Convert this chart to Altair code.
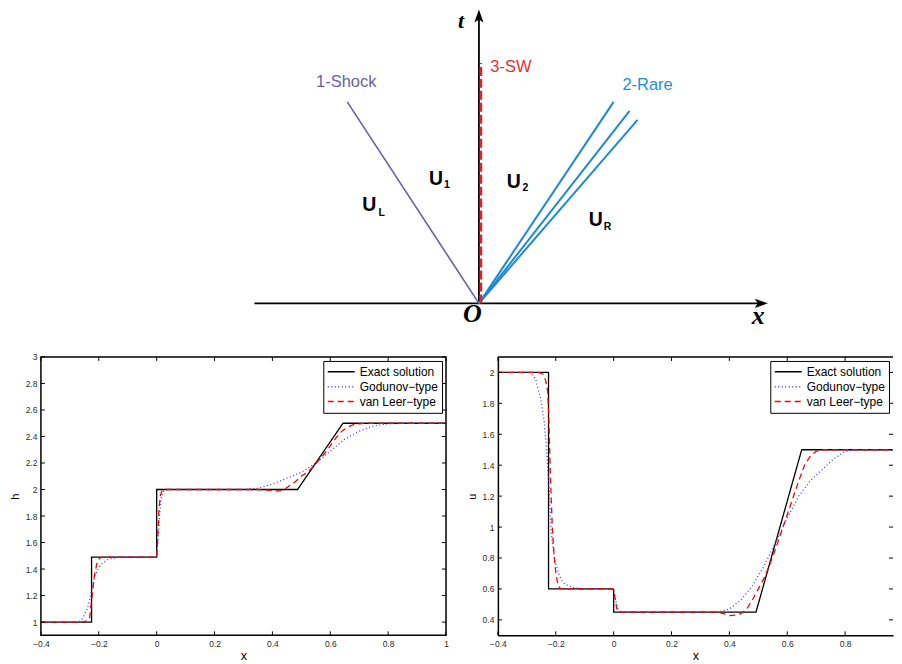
import altair as alt
import pandas as pd

# ---------------- bottom panels: data ----------------
SERIES = ["Exact solution", "Godunov−type", "van Leer−type"]
COLORS = ["#000000", "#3a3aff", "#ff0000"]
DASHES = [[1, 0], [1, 2.5], [6, 4]]

x_ticks = [-0.4, -0.2, 0, 0.2, 0.4, 0.6, 0.8, 1.0]
x_ticks_right = [-0.4, -0.2, 0, 0.2, 0.4, 0.6, 0.8]
h_ticks = [1, 1.2, 1.4, 1.6, 1.8, 2, 2.2, 2.4, 2.6, 2.8, 3]
u_ticks = [0.4, 0.6, 0.8, 1, 1.2, 1.4, 1.6, 1.8, 2]

# depth h
h_exact_x = [-0.4, -0.225, -0.225, 0.0, 0.0, 0.487, 0.644, 1.0]
h_exact_y = [1.0, 1.0, 1.49, 1.49, 2.0, 2.0, 2.5, 2.5]
h_god_x = [-0.4, -0.27, -0.255, -0.24, -0.23, -0.22, -0.213, -0.2, -0.19, -0.17, -0.155, -0.13,
           -0.1, -0.003, 0.0, 0.005, 0.01, 0.015, 0.022, 0.035, 0.3, 0.35, 0.4, 0.45, 0.5,
           0.55, 0.6, 0.65, 0.7, 0.75, 0.8, 0.85, 1.0]
h_god_y = [1.0, 1.0, 1.03, 1.1, 1.18, 1.29, 1.35, 1.41, 1.44, 1.47, 1.48, 1.488,
           1.49, 1.49, 1.5, 1.62, 1.8, 1.93, 1.985, 2.0, 2.0, 2.01, 2.04, 2.085, 2.13,
           2.2, 2.29, 2.38, 2.44, 2.48, 2.495, 2.5, 2.5]
h_vl_x = [-0.4, -0.26, -0.24, -0.232, -0.224, -0.215, -0.205, -0.195, -0.18, -0.002, 0.0,
          0.004, 0.008, 0.013, 0.02, 0.03, 0.35, 0.4, 0.42, 0.44, 0.46, 0.48, 0.5, 0.52,
          0.54, 0.56, 0.58, 0.6, 0.62, 0.64, 0.66, 0.68, 0.7, 0.72, 1.0]
h_vl_y = [1.0, 1.0, 1.01, 1.03, 1.18, 1.35, 1.46, 1.485, 1.49, 1.49, 1.49,
          1.65, 1.85, 1.96, 1.995, 2.0, 2.0, 1.993, 1.988, 2.0, 2.03, 2.06, 2.1, 2.13,
          2.17, 2.22, 2.27, 2.33, 2.39, 2.44, 2.47, 2.49, 2.495, 2.5, 2.5]

# velocity u
u_exact_x = [-0.4, -0.225, -0.225, 0.0, 0.0, 0.492, 0.65, 1.0]
u_exact_y = [2.0, 2.0, 0.6, 0.6, 0.45, 0.45, 1.5, 1.5]
u_god_x = [-0.4, -0.29, -0.27, -0.25, -0.24, -0.233, -0.225, -0.22, -0.216, -0.21, -0.204,
           -0.19, -0.181, -0.17, -0.157, -0.14, -0.123, -0.1, -0.005, 0.0, 0.005, 0.01,
           0.016, 0.022, 0.03, 0.34, 0.37, 0.4, 0.44, 0.48, 0.52, 0.56, 0.6, 0.64, 0.68,
           0.72, 0.76, 0.8, 0.84, 1.0]
u_god_y = [2.0, 2.0, 1.96, 1.81, 1.68, 1.53, 1.31, 1.13, 0.97, 0.87, 0.79,
           0.7, 0.66, 0.635, 0.62, 0.61, 0.605, 0.6, 0.6, 0.59, 0.55, 0.5,
           0.465, 0.452, 0.45, 0.45, 0.455, 0.47, 0.53, 0.62, 0.75, 0.9, 1.06, 1.2, 1.3,
           1.37, 1.44, 1.49, 1.5, 1.5]
u_vl_x = [-0.4, -0.26, -0.245, -0.235, -0.228, -0.224, -0.221, -0.218, -0.216, -0.212,
          -0.208, -0.204, -0.2, -0.195, -0.19, -0.183, -0.17, -0.005, 0.0, 0.005, 0.01,
          0.015, 0.02, 0.36, 0.38, 0.4, 0.42, 0.44, 0.46, 0.48, 0.5, 0.52, 0.54, 0.56,
          0.58, 0.6, 0.62, 0.64, 0.66, 0.68, 0.7, 0.72, 1.0]
u_vl_y = [2.0, 2.0, 1.99, 1.95, 1.88, 1.7, 1.5, 1.3, 1.2, 1.0,
          0.88, 0.78, 0.71, 0.65, 0.615, 0.602, 0.6, 0.6, 0.59, 0.54, 0.48,
          0.455, 0.45, 0.45, 0.44, 0.428, 0.43, 0.44, 0.47, 0.53, 0.6, 0.67, 0.76, 0.86,
          0.97, 1.08, 1.19, 1.3, 1.4, 1.46, 1.49, 1.5, 1.5]

# ---------------- top wave diagram: data ----------------
axis_x0 = [-2.25, 0.0]
axis_t0 = [0.0, 0.0]
axis_x1 = [2.83, 0.0]
axis_t1 = [0.0, 2.88]

shock_x = [-1.32]
shock_t = [2.02]
rare_x = [1.35, 1.51, 1.59]
rare_t = [2.02, 1.93, 1.84]
sw_x = [0.02]
sw_t = [2.41]

wave_labels = ["1-Shock", "3-SW", "2-Rare"]
wave_label_x = [-1.33, 0.32, 1.69]
wave_label_t = [2.22, 2.37, 2.19]
WAVE_COLORS = ["#6a5fa8", "#ee2a2a", "#1e8fd8"]

state_main = ["U", "U", "U", "U"]
state_x = [-1.1, -0.43, 0.35, 1.17]
state_t = [0.99, 1.25, 1.22, 0.84]
state_sub = ["L", "1", "2", "R"]
sub_x = [-0.975, -0.32, 0.465, 1.29]
sub_t = [0.91, 1.19, 1.16, 0.77]

axis_letters = ["O", "x"]
axis_letter_x = [-0.065, 2.80]
axis_letter_t = [-0.11, -0.125]
time_letter = ["t"]
time_letter_x = [-0.18]
time_letter_t = [2.83]

SANS = "Liberation Sans"
SERIF = "Liberation Serif"


def series_df(xs_list, ys_list):
    rows = []
    for name, xs, ys in zip(SERIES, xs_list, ys_list):
        for i, (a, b) in enumerate(zip(xs, ys)):
            rows.append({"series": name, "x": a, "y": b, "i": i})
    return pd.DataFrame(rows)


def panel(data, xdom, ydom, xvals, yvals, ytitle, W, H, framed):
    xs = alt.Scale(domain=xdom, nice=False, zero=False)
    ys = alt.Scale(domain=ydom, nice=False, zero=False)
    leg = alt.Legend(
        title=None, orient="top-right", offset=4, strokeColor="black",
        fillColor="white", padding=3.5, symbolType="stroke", symbolSize=729,
        symbolStrokeWidth=1.5, labelFont=SANS, labelFontSize=12, labelColor="black",
        clipHeight=14.5, rowPadding=0, labelOffset=4,
    )
    axis_common = dict(
        ticks=False, labelFont=SANS, labelFontSize=8.5, labelColor="#2a2a2a",
        labelPadding=4, titleFont=SANS, titleFontWeight="normal",
        titleColor="black", grid=False, labelFlush=False, labelOverlap=False,
        domain=not framed, domainColor="black", domainWidth=1.5,
    )
    xaxis = alt.Axis(values=xvals, format=".2~f", title="x", titlePadding=2, titleFontSize=12.5,
                     **axis_common)
    yaxis = alt.Axis(values=yvals, format=".2~f", title=ytitle, titlePadding=5, titleFontSize=11,
                     **axis_common)
    lines = alt.Chart(data).mark_line(strokeWidth=1.3, clip=True).encode(
        x=alt.X("x:Q", scale=xs, axis=xaxis),
        y=alt.Y("y:Q", scale=ys, axis=yaxis),
        color=alt.Color("series:N", scale=alt.Scale(domain=SERIES, range=COLORS), legend=leg),
        strokeDash=alt.StrokeDash("series:N", scale=alt.Scale(domain=SERIES, range=DASHES), legend=leg),
        order=alt.Order("i:Q"),
    )
    xt = pd.DataFrame({"x": xvals})
    yt = pd.DataFrame({"y": yvals})
    tk = dict(color="black", strokeWidth=1)
    bottom_t = alt.Chart(xt).mark_rule(**tk).encode(
        x=alt.X("x:Q", scale=xs, axis=xaxis), y=alt.value(H), y2=alt.value(H - 4))
    top_t = alt.Chart(xt).mark_rule(**tk).encode(
        x=alt.X("x:Q", scale=xs, axis=xaxis), y=alt.value(0), y2=alt.value(4))
    left_t = alt.Chart(yt).mark_rule(**tk).encode(
        y=alt.Y("y:Q", scale=ys, axis=yaxis), x=alt.value(0), x2=alt.value(4))
    right_t = alt.Chart(yt).mark_rule(**tk).encode(
        y=alt.Y("y:Q", scale=ys, axis=yaxis), x=alt.value(W), x2=alt.value(W - 4))
    layers = [bottom_t, top_t, left_t, right_t]
    if not framed:
        top_line = alt.Chart(pd.DataFrame({"k": [0]})).mark_rule(color="black", strokeWidth=1.5).encode(
            x=alt.value(0), x2=alt.value(W), y=alt.value(0))
        layers.append(top_line)
    view = alt.ViewBackground(stroke="black", strokeWidth=1.5) if framed else alt.ViewBackground(strokeOpacity=0)
    return alt.layer(lines, *layers).properties(width=W, height=H, view=view)


h_df = series_df([h_exact_x, h_god_x, h_vl_x], [h_exact_y, h_god_y, h_vl_y])
u_df = series_df([u_exact_x, u_god_x, u_vl_x], [u_exact_y, u_god_y, u_vl_y])

PW, PH = 406, 279
W2 = 396
left = panel(h_df, [-0.4, 1.0], [0.9, 3.0], x_ticks, h_ticks, "h", PW, PH, True)
right = panel(u_df, [-0.4, -0.4 + W2 / 290.0], [0.3, 2.1], x_ticks_right, u_ticks, "u", W2, PH, False)

bottom = alt.hconcat(left, right, spacing=52, bounds="flush").resolve_scale(
    color="independent", strokeDash="independent"
).resolve_legend(color="independent", strokeDash="independent")

# ---------------- top diagram ----------------
TW, TH = 854, 330
tx = alt.Scale(domain=[-4.39, -4.39 + TW / 100.0], nice=False, zero=False)
tt = alt.Scale(domain=[2.943 - TH / 100.0, 2.943], nice=False, zero=False)


def XT(field="x"):
    return alt.X(f"{field}:Q", scale=tx, axis=None)


def YT(field="t"):
    return alt.Y(f"{field}:Q", scale=tt, axis=None)


axes_df = pd.DataFrame({"x0": axis_x0, "t0": axis_t0, "x1": axis_x1, "t1": axis_t1})
axes_lines = alt.Chart(axes_df).mark_rule(color="black", strokeWidth=1.8).encode(
    x=XT("x0"), y=YT("t0"), x2="x1:Q", y2="t1:Q")

arrow_up = alt.Chart(pd.DataFrame({"x": [axis_x1[1]], "t": [axis_t1[1]]})).mark_point(
    shape="M0,-1L0.7,1L0,0.55L-0.7,1Z", size=170, filled=True, color="black", opacity=1).encode(
    x=XT(), y=YT())
arrow_right = alt.Chart(pd.DataFrame({"x": [axis_x1[0]], "t": [axis_t1[0]]})).mark_point(
    shape="M1,0L-1,0.7L-0.55,0L-1,-0.7Z", size=170, filled=True, color="black", opacity=1).encode(
    x=XT(), y=YT())


def rays(xs, ts, color, width):
    df = pd.DataFrame({"x0": [0.0] * len(xs), "t0": [0.0] * len(xs), "x1": xs, "t1": ts})
    return alt.Chart(df).mark_rule(color=color, strokeWidth=width).encode(
        x=XT("x0"), y=YT("t0"), x2="x1:Q", y2="t1:Q")


shock = rays(shock_x, shock_t, "#6a5fa8", 1.6)
rare = rays(rare_x, rare_t, "#1c8ad2", 2.0)
sw_df = pd.DataFrame({"x0": sw_x, "t0": [0.0], "x1": sw_x, "t1": sw_t})
sw = alt.Chart(sw_df).mark_rule(color="#ee1c24", strokeWidth=2.6, strokeDash=[9, 3]).encode(
    x=XT("x0"), y=YT("t0"), x2="x1:Q", y2="t1:Q")

wl_df = pd.DataFrame({"label": wave_labels, "x": wave_label_x, "t": wave_label_t})
wave_text = alt.Chart(wl_df).mark_text(font=SANS, fontSize=16.5, align="center", baseline="middle").encode(
    x=XT(), y=YT(), text="label:N",
    color=alt.Color("label:N", scale=alt.Scale(domain=wave_labels, range=WAVE_COLORS), legend=None))

st_df = pd.DataFrame({"s": state_main, "x": state_x, "t": state_t})
state_text = alt.Chart(st_df).mark_text(font=SANS, fontSize=19.5, fontWeight="bold", color="black",
                                        align="center", baseline="middle").encode(
    x=XT(), y=YT(), text="s:N")
sub_df = pd.DataFrame({"s": state_sub, "x": sub_x, "t": sub_t})
sub_text = alt.Chart(sub_df).mark_text(font=SANS, fontSize=10.5, fontWeight="bold", color="black",
                                       align="center", baseline="middle").encode(
    x=XT(), y=YT(), text="s:N")

al_df = pd.DataFrame({"s": axis_letters, "x": axis_letter_x, "t": axis_letter_t})
axis_letter_text = alt.Chart(al_df).mark_text(font=SERIF, fontSize=26, fontWeight="bold",
                                              fontStyle="italic", color="black", align="center",
                                              baseline="middle").encode(
    x=XT(), y=YT(), text="s:N")
tl_df = pd.DataFrame({"s": time_letter, "x": time_letter_x, "t": time_letter_t})
time_letter_text = alt.Chart(tl_df).mark_text(font=SERIF, fontSize=22, fontWeight="bold",
                                              fontStyle="italic", color="black", align="center",
                                              baseline="middle").encode(
    x=XT(), y=YT(), text="s:N")

top = alt.layer(axes_lines, arrow_up, arrow_right, shock, rare, sw, wave_text, state_text,
                sub_text, axis_letter_text, time_letter_text).properties(
    width=TW, height=TH, view=alt.ViewBackground(strokeOpacity=0))

chart = alt.vconcat(top, bottom, spacing=18, bounds="flush").properties(
    padding=0, background="white")

chart.save("out.html", embed_options={"renderer": "svg", "actions": False})
